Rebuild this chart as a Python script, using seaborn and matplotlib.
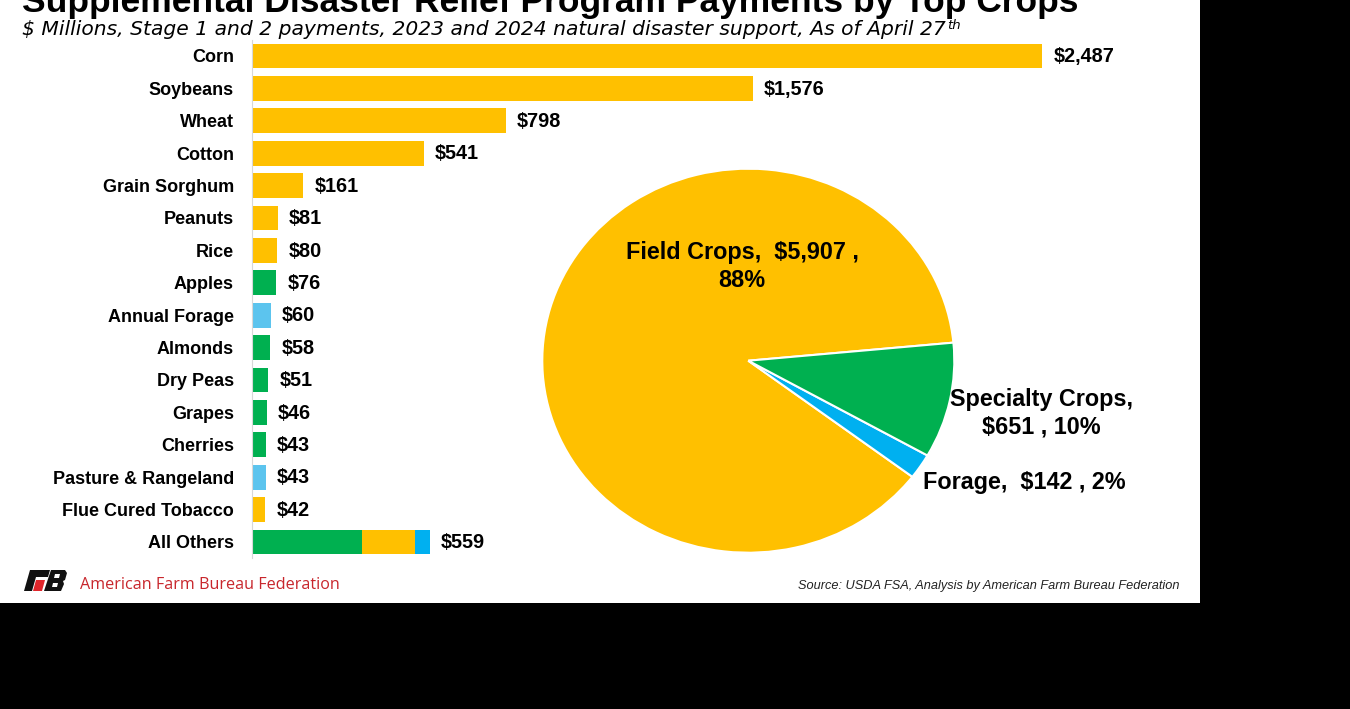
import matplotlib
matplotlib.use("Agg")
import matplotlib.pyplot as plt
import matplotlib.transforms as mtransforms
import seaborn as sns
import pandas as pd
from matplotlib.patches import Rectangle, Polygon

# ---------------- data ----------------
crops = ["Corn", "Soybeans", "Wheat", "Cotton", "Grain Sorghum", "Peanuts", "Rice",
         "Apples", "Annual Forage", "Almonds", "Dry Peas", "Grapes", "Cherries",
         "Pasture & Rangeland", "Flue Cured Tobacco"]
payments = [2487, 1576, 798, 541, 161, 81, 80, 76, 60, 58, 51, 46, 43, 43, 42]
groups = ["Field", "Field", "Field", "Field", "Field", "Field", "Field",
          "Specialty", "Forage", "Specialty", "Specialty", "Specialty", "Specialty",
          "Forage", "Field"]
others_label = "All Others"
others_parts = ["Specialty", "Field", "Forage"]
others_values = [347, 165, 47]
others_total = 559

pie_labels = ["Field Crops", "Forage", "Specialty Crops"]
pie_values = [5907, 142, 651]
pie_pcts = ["88%", "2%", "10%"]

YELLOW = "#FFC000"
GREEN = "#00B050"
BLUE_BAR = "#5CC4EE"
BLUE = "#00B0F0"
bar_colors = {"Field": YELLOW, "Specialty": GREEN, "Forage": BLUE_BAR}
stack_colors = {"Field": YELLOW, "Specialty": GREEN, "Forage": BLUE}

W, H = 1350, 709
fig = plt.figure(figsize=(W / 100, H / 100), dpi=100)
fig.patch.set_facecolor("black")
fig.patches.append(Rectangle((0, 1 - 603 / H), 1200 / W, 603 / H, transform=fig.transFigure,
                             facecolor="white", edgecolor="none", zorder=-5))
PX = mtransforms.Affine2D().scale(1 / W, -1 / H).translate(0, 1) + fig.transFigure

BOLD = dict(family=["Liberation Sans", "DejaVu Sans"], weight="bold")

# ---------------- bar chart ----------------
row = 32.4
top_px = 56 - row / 2
h_px = 16 * row
ax = fig.add_axes([252 / W, 1 - (top_px + h_px) / H, 826 / W, h_px / H])
ax.patch.set_alpha(0)
df = pd.DataFrame({"crop": crops, "value": payments, "group": groups})
order = crops + [others_label]
sns.barplot(data=df, x="value", y="crop", hue="group", order=order, palette=bar_colors,
            dodge=False, width=0.77, legend=False, ax=ax, saturation=1, orient="h")
left = 0
for part, v in zip(others_parts, others_values):
    ax.barh(len(crops), v, left=left, height=0.77, color=stack_colors[part], edgecolor="none")
    left += v
ax.set_xlim(0, 826 / 0.3177)
ax.set_ylim(15.5, -0.5)
ax.set_xlabel("")
ax.set_ylabel("")
ax.set_xticks([])
ax.tick_params(axis="y", length=0, pad=13)
for lab in ax.get_yticklabels():
    lab.set_fontsize(13)
    lab.set_fontweight("bold")
    lab.set_family(["Liberation Sans", "DejaVu Sans"])
for s in ["top", "right", "bottom"]:
    ax.spines[s].set_visible(False)
ax.spines["left"].set_color("#d8d8d8")
ax.spines["left"].set_linewidth(0.8)

vals_all = payments + [others_total]
for i, v in enumerate(vals_all):
    ax.annotate(f"${v:,}", xy=(v, i), xytext=(8, -0.5), textcoords="offset points",
                va="center", ha="left", fontsize=14.3, **BOLD)

# ---------------- pie chart ----------------
cx, cy, rx, ry = 748.3, 360.7, 206, 192
pax = fig.add_axes([(cx - rx) / W, 1 - (cy + ry) / H, 2 * rx / W, 2 * ry / H])
pax.pie(pie_values, colors=[YELLOW, BLUE, GREEN], startangle=5.4, counterclock=True,
        wedgeprops=dict(edgecolor="white", linewidth=1.5))
pax.set_aspect("auto")
pax.set_xlim(-1, 1)
pax.set_ylim(-1, 1)
pax.axis("off")

fig.text(742 / W, 1 - 266.5 / H, f"{pie_labels[0]},  ${pie_values[0]:,} ,\n{pie_pcts[0]}",
         ha="center", va="center", fontsize=16.8, linespacing=1.25, **BOLD)
fig.text(1041 / W, 1 - 413.5 / H, f"{pie_labels[2]},\n${pie_values[2]:,} , {pie_pcts[2]}",
         ha="center", va="center", fontsize=16.8, linespacing=1.25, **BOLD)
fig.text(923 / W, 1 - 483 / H, f"{pie_labels[1]},  ${pie_values[1]:,} , {pie_pcts[1]}",
         ha="left", va="center", fontsize=16.8, **BOLD)

# ---------------- titles ----------------
fig.text(22 / W, 1 - 12 / H, "Supplemental Disaster Relief Program Payments by Top Crops",
         ha="left", va="baseline", fontsize=25.5, **BOLD)
sub = fig.text(22 / W, 1 - 35 / H,
               "$ Millions, Stage 1 and 2 payments, 2023 and 2024 natural disaster support, As of April 27",
               ha="left", va="baseline", fontsize=14.6, style="italic",
               family=["DejaVu Sans"])
fig.add_artist(matplotlib.text.Annotation(
    "th", xy=(1, 1), xycoords=sub, xytext=(1, 1), textcoords="offset points",
    ha="left", va="top", fontsize=9.5, style="italic", family=["DejaVu Sans"]))

# ---------------- footer ----------------
logo_black = [
    [(30, 570), (50, 570), (48, 577), (36, 577), (32, 591), (24, 591)],
    [(51, 570), (65, 570), (67, 573), (65, 580), (63, 581), (64, 584), (61, 591), (44, 591)],
]
for pts in logo_black:
    fig.patches.append(Polygon(pts, closed=True, transform=PX, facecolor="#111111",
                               edgecolor="none"))
fig.patches.append(Polygon([(36, 580), (45, 580), (42, 591), (33, 591)], closed=True,
                           transform=PX, facecolor="#E0262B", edgecolor="none"))
fig.patches.append(Polygon([(55, 574), (60, 574), (59, 578), (54, 578)], closed=True,
                           transform=PX, facecolor="white", edgecolor="none"))
fig.patches.append(Polygon([(53, 583), (58, 583), (57, 587), (52, 587)], closed=True,
                           transform=PX, facecolor="white", edgecolor="none"))
fig.text(80 / W, 1 - 585 / H, "American Farm Bureau Federation", ha="left", va="center",
         fontsize=11.6, color="#C8262C", family=["Open Sans", "DejaVu Sans"])
fig.text(1180 / W, 1 - 586 / H, "Source: USDA FSA, Analysis by American Farm Bureau Federation",
         ha="right", va="center", fontsize=9.2, style="italic",
         family=["Liberation Sans", "DejaVu Sans"], color="#222222")

fig.savefig("out.png", dpi=100, facecolor=fig.get_facecolor())
